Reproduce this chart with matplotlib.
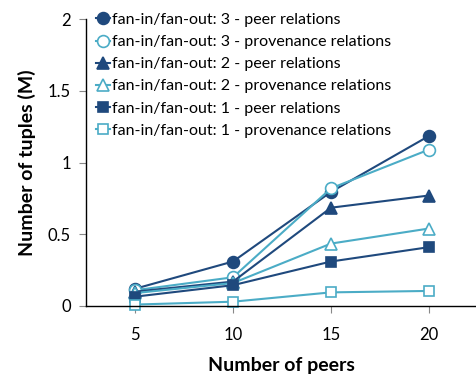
import matplotlib
matplotlib.use("Agg")
import matplotlib.pyplot as plt

plt.rcParams['font.family'] = ['Lato', 'DejaVu Sans']

peers = [5, 10, 15, 20]
fan3_peer = [0.12, 0.31, 0.795, 1.185]
fan3_prov = [0.11, 0.20, 0.82, 1.09]
fan2_peer = [0.10, 0.17, 0.685, 0.77]
fan2_prov = [0.09, 0.16, 0.435, 0.54]
fan1_peer = [0.065, 0.145, 0.31, 0.41]
fan1_prov = [0.01, 0.03, 0.095, 0.105]

labels = [
    "fan-in/fan-out: 3 - peer relations",
    "fan-in/fan-out: 3 - provenance relations",
    "fan-in/fan-out: 2 - peer relations",
    "fan-in/fan-out: 2 - provenance relations",
    "fan-in/fan-out: 1 - peer relations",
    "fan-in/fan-out: 1 - provenance relations",
]

dark = "#1f497d"
light = "#4bacc6"

fig = plt.figure(figsize=(4.77, 3.77), dpi=100)
ax = fig.add_axes([86 / 477, 71 / 377, 390 / 477, 287 / 377])

series = [
    (fan3_peer, "o", dark, True),
    (fan3_prov, "o", light, False),
    (fan2_peer, "^", dark, True),
    (fan2_prov, "^", light, False),
    (fan1_peer, "s", dark, True),
    (fan1_prov, "s", light, False),
]

for (vals, mk, col, filled), lab in zip(series, labels):
    ax.plot(peers, vals, color=col, lw=1.5, marker=mk,
            markersize=8.5 if mk != "s" else 7.5,
            markerfacecolor=col if filled else "white",
            markeredgecolor=col, markeredgewidth=1.2, label=lab, clip_on=False)

ax.set_xlim(2.5, 22.4)
ax.set_ylim(0, 2)
ax.set_xticks(peers)
ax.set_yticks([0, 0.5, 1, 1.5, 2])
ax.set_yticklabels(["0", "0.5", "1", "1.5", "2"])
for s in ["top", "right"]:
    ax.spines[s].set_visible(False)
ax.spines["left"].set_linewidth(1.0)
ax.spines["bottom"].set_linewidth(1.0)
ax.tick_params(axis="both", direction="out", length=5, width=0.8, color="#888888",
               labelsize=12, pad=6)
ax.tick_params(axis="x", pad=10)

ax.set_xlabel("Number of peers", fontsize=14, fontweight="bold", labelpad=10)
ax.set_ylabel("Number of tuples (M)", fontsize=14, fontweight="bold", labelpad=8)

leg = ax.legend(loc="upper left", bbox_to_anchor=(0.0, 1.055), frameon=False,
                fontsize=11.5, handlelength=0.9, handletextpad=0.1,
                labelspacing=0.5, borderaxespad=0.2)

fig.savefig("out.png", dpi=100)
